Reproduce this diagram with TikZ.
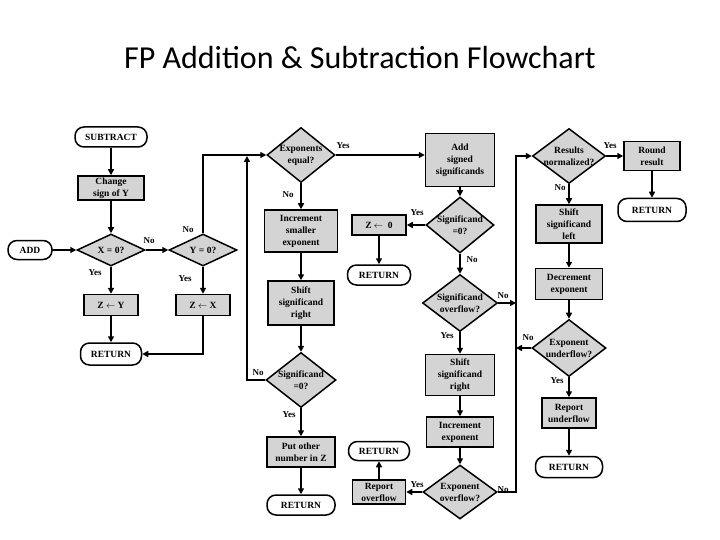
\documentclass[tikz,border=0pt]{standalone}
\usepackage{fontspec}
\setmainfont{Liberation Serif}
\newfontfamily\titlefont{Carlito}
\usetikzlibrary{shapes.geometric,arrows.meta}
\definecolor{boxgray}{RGB}{212,212,212}
\begin{document}
\begin{tikzpicture}[x=1pt,y=-1pt,
 every node/.style={font=\fontsize{9.5}{12}\selectfont\bfseries, align=center, inner sep=1pt},
 proc/.style={draw, line width=1.5pt, fill=boxgray, rectangle, inner sep=0pt},
 term/.style={draw, line width=1.5pt, fill=white, rectangle, rounded corners=9pt, inner sep=0pt},
 dia/.style={draw, line width=1.5pt, fill=boxgray, diamond, inner sep=0pt},
 arr/.style={line width=1.5pt, -{Triangle[length=6pt,width=6pt]}},
 lbl/.style={font=\fontsize{9}{10}\selectfont\bfseries, inner sep=0pt}]
\useasboundingbox (0,0) rectangle (720,540);
\fill[white] (0,0) rectangle (720,540);
\node[font=\fontsize{32}{36}\selectfont\titlefont] (title) at (360,58) {FP Addition \& Subtraction Flowchart};

% left column
\node[term, minimum width=72pt, minimum height=20pt] (sub) at (111,137) {SUBTRACT};
\node[proc, minimum width=66pt, minimum height=24pt] (chg) at (111,188) {Change\\sign of Y};
\node[term, minimum width=44pt, minimum height=19pt] (add) at (30,250) {ADD};
\node[dia, minimum width=68pt, minimum height=32pt, label=center:{X = 0?}] (x0) at (111,250) {};
\node[dia, minimum width=68pt, minimum height=32pt, label=center:{Y = 0?}] (y0) at (203,250) {};
\node[proc, minimum width=54pt, minimum height=21pt] (zy) at (111,305) {Z $\leftarrow$ Y};
\node[proc, minimum width=54pt, minimum height=21pt] (zx) at (203,305) {Z $\leftarrow$ X};
\node[term, minimum width=61pt, minimum height=22pt] (ret1) at (111,354) {RETURN};

% middle column
\node[dia, minimum width=68pt, minimum height=55pt, label={center:{Exponents\\equal?}}] (eq) at (301,155) {};
\node[proc, minimum width=73pt, minimum height=42pt] (inc) at (301,231) {Increment\\smaller\\exponent};
\node[proc, minimum width=66pt, minimum height=44pt] (shr1) at (301,303) {Shift\\significand\\right};
\node[dia, minimum width=70pt, minimum height=55pt, label={center:{Significand\\=0?}}] (sig0m) at (301,380) {};
\node[proc, minimum width=68pt, minimum height=30pt] (put) at (301,452) {Put other\\number in Z};
\node[term, minimum width=68pt, minimum height=20pt] (ret2) at (301,505) {RETURN};
\node[proc, minimum width=54pt, minimum height=20pt] (z0) at (379,225) {Z $\leftarrow$ \ 0};
\node[term, minimum width=63pt, minimum height=20pt] (ret3) at (379,275) {RETURN};

% third column
\node[proc, minimum width=69pt, minimum height=53pt] (addsig) at (460,160) {Add\\signed\\significands};
\node[dia, minimum width=68pt, minimum height=56pt, label={center:{Significand\\=0?}}] (sig0r) at (460,225) {};
\node[dia, minimum width=75pt, minimum height=57pt, label={center:{Significand\\overflow?}}] (ovf) at (460,303) {};
\node[proc, minimum width=69pt, minimum height=41pt] (shr2) at (460,375) {Shift\\significand\\right};
\node[proc, minimum width=67pt, minimum height=30pt] (incexp) at (460,432) {Increment\\exponent};
\node[dia, minimum width=74pt, minimum height=54pt, label={center:{Exponent\\overflow?}}] (expovf) at (460,492) {};
\node[proc, minimum width=53pt, minimum height=24pt] (repovf) at (379,492) {Report\\overflow};
\node[term, minimum width=61pt, minimum height=19pt] (ret4) at (379,451) {RETURN};

% fourth column
\node[dia, minimum width=73pt, minimum height=55pt, label={center:{Results\\normalized?}}] (norm) at (569,156) {};
\node[proc, minimum width=56pt, minimum height=29pt] (round) at (652,156) {Round\\result};
\node[term, minimum width=68pt, minimum height=23pt] (ret5) at (652,210) {RETURN};
\node[proc, minimum width=66pt, minimum height=38pt] (shl) at (569,224) {Shift\\significand\\left};
\node[proc, minimum width=67pt, minimum height=31pt] (dec) at (569,284) {Decrement\\exponent};
\node[dia, minimum width=74pt, minimum height=57pt, label={center:{Exponent\\underflow?}}] (undf) at (569,348) {};
\node[proc, minimum width=54pt, minimum height=30pt] (repund) at (569,413) {Report\\underflow};
\node[term, minimum width=67pt, minimum height=21pt] (ret6) at (569,467) {RETURN};

% junction coordinates
\coordinate (j1) at (247,156);
\coordinate (b1) at (516,303);
\coordinate (b2) at (516,348);
\coordinate (b3) at (516,492);

% connectors left
\draw[arr] (sub) -- (chg);
\draw[arr] (chg) -- (x0);
\draw[arr] (add) -- (x0);
\draw[arr] (x0) -- (y0);
\draw[arr] (x0) -- (zy);
\draw[arr] (y0) -- (zx);
\draw[arr] (zy) -- (ret1);
\draw[arr] (zx.south) |- (ret1.east);
\draw[arr] (y0.north) |- (eq.west);
\draw[arr] (sig0m.west) -| (j1);

% connectors middle
\draw[arr] (eq.east) -- (eq.east -| addsig.west);
\draw[arr] (eq) -- (inc);
\draw[arr] (inc) -- (shr1);
\draw[arr] (shr1) -- (sig0m);
\draw[arr] (sig0m) -- (put);
\draw[arr] (put) -- (ret2);
\draw[arr] (z0) -- (ret3);

% connectors third column
\draw[arr] (addsig) -- (sig0r);
\draw[arr] (sig0r.west) -- (z0.east);
\draw[arr] (sig0r) -- (ovf);
\draw[arr] (ovf.east) -- (b1);
\draw[arr] (ovf) -- (shr2);
\draw[arr] (shr2) -- (incexp);
\draw[arr] (incexp) -- (expovf);
\draw[arr] (expovf.west) -- (repovf.east);
\draw[arr] (repovf) -- (ret4);
\draw[arr] (expovf.east) -- (b3) |- (norm.west);

% connectors fourth column
\draw[arr] (norm.east) -- (round.west);
\draw[arr] (round) -- (ret5);
\draw[arr] (norm) -- (shl);
\draw[arr] (shl) -- (dec);
\draw[arr] (dec) -- (undf);
\draw[arr] (undf.west) -- (b2);
\draw[arr] (undf) -- (repund);
\draw[arr] (repund) -- (ret6);

% branch labels
\node[lbl] (l1) at (149,241) {No};
\node[lbl] (l2) at (188,230) {No};
\node[lbl] (l3) at (95,273) {Yes};
\node[lbl] (l4) at (185,279) {Yes};
\node[lbl] (l5) at (343,146) {Yes};
\node[lbl] (l6) at (288,195) {No};
\node[lbl] (l7) at (258,373) {No};
\node[lbl] (l8) at (289,415) {Yes};
\node[lbl] (l9) at (417,213) {Yes};
\node[lbl] (l10) at (472,260) {No};
\node[lbl] (l11) at (503,296) {No};
\node[lbl] (l12) at (447,336) {Yes};
\node[lbl] (l13) at (417,485) {Yes};
\node[lbl] (l14) at (503,490) {No};
\node[lbl] (l15) at (610,146) {Yes};
\node[lbl] (l16) at (560,188) {No};
\node[lbl] (l17) at (528,338) {No};
\node[lbl] (l18) at (557,381) {Yes};
\end{tikzpicture}
\end{document}
